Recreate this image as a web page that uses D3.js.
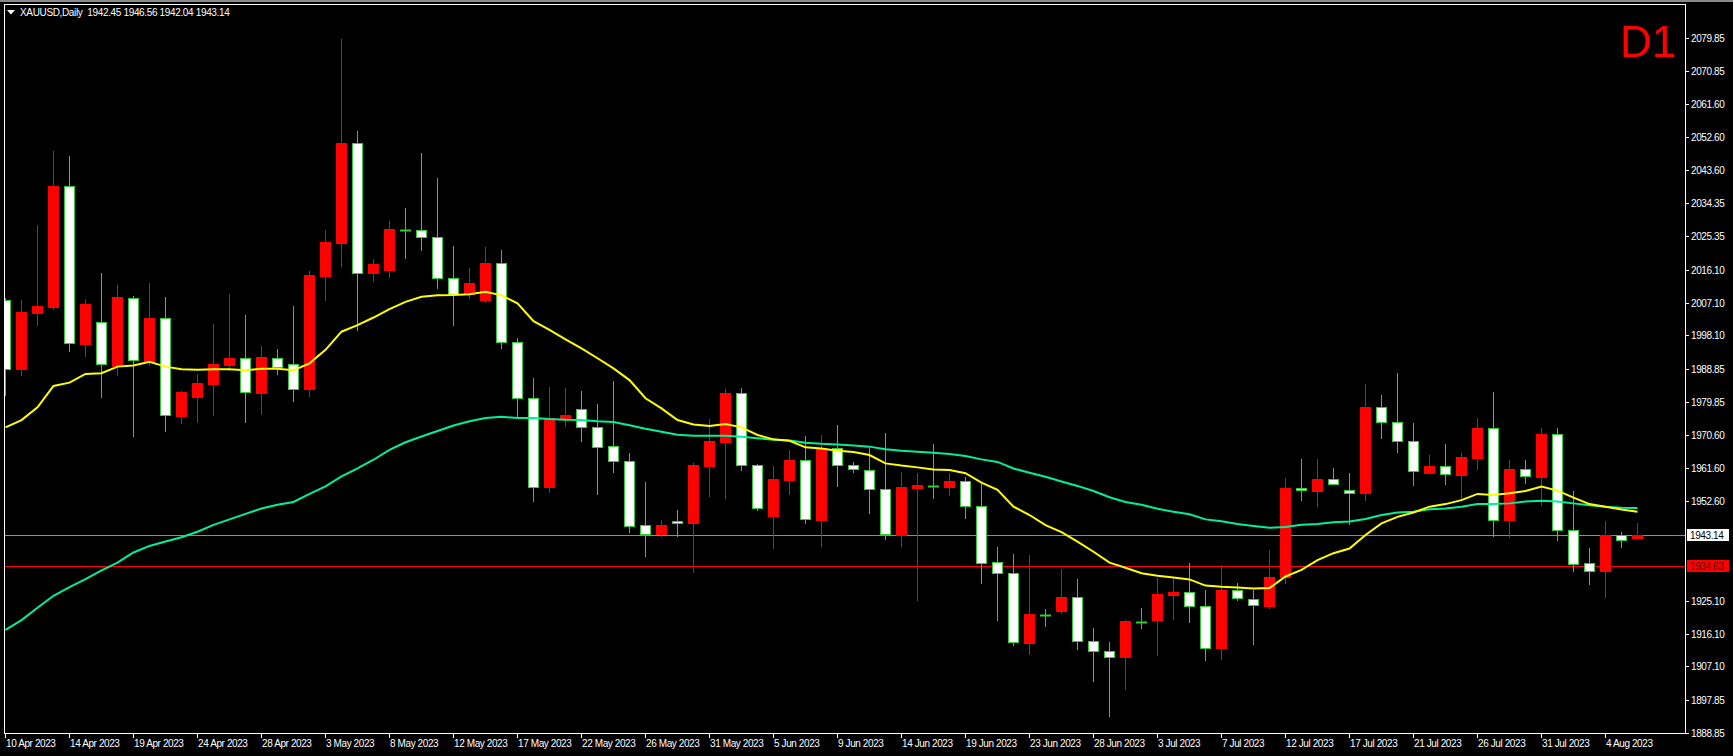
<!DOCTYPE html>
<html><head><meta charset="utf-8">
<script src="https://cdn.jsdelivr.net/npm/d3@7"></script>
<style>
html,body{margin:0;padding:0;background:#000;}
svg{display:block;}
text{font-family:"Liberation Sans",Arial,sans-serif;}
</style></head>
<body>
<svg id="chart" width="1733" height="756"></svg>
<script>
// ---------------- DATA ----------------
const symbolTitle = "XAUUSD,Daily  1942.45 1946.56 1942.04 1943.14";
const timeframeLabel = "D1";
const dates = [
"2023-04-10","2023-04-11","2023-04-12","2023-04-13","2023-04-14",
"2023-04-16","2023-04-17","2023-04-18","2023-04-19","2023-04-20","2023-04-21",
"2023-04-23","2023-04-24","2023-04-25","2023-04-26","2023-04-27","2023-04-28",
"2023-04-30","2023-05-01","2023-05-02","2023-05-03","2023-05-04","2023-05-05",
"2023-05-07","2023-05-08","2023-05-09","2023-05-10","2023-05-11","2023-05-12",
"2023-05-14","2023-05-15","2023-05-16","2023-05-17","2023-05-18","2023-05-19",
"2023-05-21","2023-05-22","2023-05-23","2023-05-24","2023-05-25","2023-05-26",
"2023-05-28","2023-05-29","2023-05-30","2023-05-31","2023-06-01","2023-06-02",
"2023-06-04","2023-06-05","2023-06-06","2023-06-07","2023-06-08","2023-06-09",
"2023-06-11","2023-06-12","2023-06-13","2023-06-14","2023-06-15","2023-06-16",
"2023-06-18","2023-06-19","2023-06-20","2023-06-21","2023-06-22","2023-06-23",
"2023-06-25","2023-06-26","2023-06-27","2023-06-28","2023-06-29","2023-06-30",
"2023-07-02","2023-07-03","2023-07-04","2023-07-05","2023-07-06","2023-07-07",
"2023-07-09","2023-07-10","2023-07-11","2023-07-12","2023-07-13","2023-07-14",
"2023-07-16","2023-07-17","2023-07-18","2023-07-19","2023-07-20","2023-07-21",
"2023-07-23","2023-07-24","2023-07-25","2023-07-26","2023-07-27","2023-07-28",
"2023-07-30","2023-07-31","2023-08-01","2023-08-02","2023-08-03","2023-08-04",
"2023-08-06","2023-08-07"];

const open = [2007.7,1988.9,2004.3,2005.9,2039.1,1995.7,2001.7,1989.8,2008.5,1991.1,2002.8,1976.0,1981.2,1984.8,1990.0,1991.8,1982.3,1992.0,1990.1,1983.3,2014.4,2023.5,2050.9,2015.2,2016.2,2027.1,2027.0,2025.0,2013.8,2009.5,2007.9,2017.9,1996.2,1981.0,1956.4,1975.0,1977.8,1972.8,1967.6,1963.5,1945.9,1943.5,1947.1,1946.4,1962.3,1968.9,1982.2,1962.4,1948.3,1958.4,1963.7,1947.4,1967.0,1962.4,1961.0,1955.8,1943.3,1956.2,1956.7,1956.5,1958.0,1951.1,1935.7,1932.7,1913.6,1921.2,1922.4,1926.1,1914.0,1911.2,1909.6,1919.3,1919.7,1926.8,1927.4,1923.6,1912.0,1928.0,1925.5,1923.8,1931.6,1956.0,1955.4,1958.5,1955.5,1954.8,1978.3,1974.2,1969.0,1960.3,1962.1,1959.7,1964.5,1972.5,1947.2,1961.3,1959.2,1970.9,1944.5,1935.5,1933.3,1943.1,1942.45];
const high = [2008.5,2007.8,2028.4,2048.8,2047.4,2008.1,2015.2,2011.9,2009.0,2012.5,2008.6,1982.9,1987.5,2001.3,2009.6,2003.7,1995.2,1994.3,2006.3,2015.8,2027.1,2079.6,2054.3,2019.1,2029.5,2033.1,2048.2,2041.4,2022.7,2016.6,2022.4,2021.6,1997.4,1986.4,1984.0,1983.7,1982.8,1979.2,1985.5,1965.7,1957.8,1947.3,1950.1,1962.9,1975.0,1983.3,1983.5,1962.7,1962.2,1966.6,1970.4,1970.7,1973.5,1963.3,1967.0,1971.3,1960.5,1960.3,1968.2,1960.3,1959.1,1957.4,1939.9,1938.0,1937.7,1922.8,1933.8,1931.1,1917.6,1913.8,1919.8,1923.1,1931.5,1931.5,1935.5,1928.1,1935.0,1930.0,1928.1,1939.1,1958.9,1964.1,1964.1,1961.6,1960.2,1984.7,1981.7,1987.8,1974.0,1965.2,1968.2,1965.8,1975.4,1982.5,1963.8,1963.8,1972.6,1972.6,1955.3,1939.6,1947.1,1944.0,1946.56];
const low = [1981.7,1987.2,2001.0,2005.4,1993.9,1992.5,1981.2,1987.2,1970.5,1990.0,1971.9,1974.1,1974.3,1976.3,1988.6,1974.4,1976.6,1987.5,1980.0,1981.5,2007.8,2017.2,1999.6,2013.0,2014.1,2019.5,2021.7,2011.2,2001.0,2008.5,2007.4,1994.7,1976.0,1952.6,1955.0,1973.2,1969.1,1954.5,1960.5,1944.0,1937.5,1942.8,1943.0,1932.9,1954.0,1953.5,1961.2,1950.2,1939.6,1954.6,1946.6,1940.2,1956.8,1960.6,1949.3,1942.2,1940.3,1925.4,1953.5,1954.3,1948.0,1930.1,1919.7,1912.9,1910.5,1918.2,1921.7,1911.9,1903.2,1893.5,1900.9,1917.7,1910.2,1920.2,1919.3,1908.8,1909.1,1925.2,1913.1,1923.0,1929.9,1952.7,1951.3,1957.2,1946.1,1952.7,1970.0,1966.1,1957.0,1960.2,1957.3,1952.8,1961.4,1943.0,1942.7,1957.6,1951.5,1941.7,1933.4,1929.7,1926.2,1939.9,1942.04];
const close = [1988.8,2004.5,2006.2,2039.2,1995.9,2006.7,1990.1,2008.6,1991.2,2002.9,1976.1,1982.5,1985.0,1990.2,1991.9,1982.4,1992.1,1989.3,1983.3,2014.7,2023.8,2051.0,2015.3,2017.7,2027.3,2027.1,2025.0,2013.8,2009.6,2012.5,2018.0,1996.2,1981.0,1956.3,1975.4,1976.2,1972.8,1967.5,1963.5,1945.8,1943.5,1946.0,1946.4,1962.5,1969.1,1982.3,1962.4,1950.5,1958.5,1963.8,1947.5,1966.9,1962.4,1961.3,1955.8,1943.4,1956.4,1957.0,1956.7,1958.0,1951.1,1935.6,1932.7,1913.7,1921.4,1921.2,1926.2,1914.0,1911.2,1909.6,1919.6,1919.3,1927.0,1927.4,1923.6,1912.0,1928.1,1925.8,1923.9,1931.7,1956.1,1955.5,1958.6,1957.3,1954.8,1978.4,1974.2,1969.0,1960.7,1962.2,1959.9,1964.7,1972.6,1947.2,1961.4,1959.3,1971.0,1944.5,1935.2,1933.3,1943.2,1941.7,1943.14];

const maFast = [1972.8,1974.8,1978.3,1984.2,1985.1,1987.5,1987.7,1989.5,1989.8,1990.8,1989.5,1988.8,1988.65,1988.8,1988.8,1988.5,1988.9,1988.9,
1988.5,1990.4,1994.1,1999.1,2000.9,2003.0,2005.3,2007.3,2008.7,2009.1,2009.2,2009.4,2010.1,2009.1,2006.9,2002.0,1999.6,1997.0,
1994.5,1991.8,1989.0,1985.8,1980.8,1978.0,1974.8,1973.6,1973.2,1973.7,1972.8,1970.7,1969.5,1969.1,1967.3,1967.0,1966.4,
1966.0,1965.2,1962.9,1962.3,1961.8,1961.2,1961.1,1960.2,1957.6,1955.6,1951.0,1948.7,1945.9,1944.0,1941.4,1938.6,1935.6,1934.2,
1932.7,1932.0,1931.5,1931.0,1929.3,1929.0,1928.8,1928.5,1928.6,1931.8,1933.6,1936.3,1938.2,1939.5,1943.2,1946.4,1948.2,1949.4,
1951.0,1951.7,1952.8,1954.5,1954.2,1954.7,1955.3,1956.5,1955.4,1953.5,1951.7,1951.0,1950.2,1949.6];
const maSlow = [1917.1,1919.8,1923.2,1926.5,1928.9,1931.1,1933.5,1935.6,1938.4,1940.2,1941.4,1942.6,1944.1,1946.0,1947.5,1949.0,1950.5,1951.5,1952.3,1954.5,1956.6,1959.3,1961.5,1963.9,1966.6,1968.7,1970.3,1971.8,1973.3,1974.5,1975.4,1975.7,1975.4,1975.4,1975.1,
1974.9,1974.8,1974.5,1974.3,1973.4,1972.4,1971.6,1970.8,1970.5,1970.5,1970.5,1970.2,1969.8,1969.4,1969.2,1968.6,1968.3,1968.1,
1967.8,1967.5,1966.8,1966.4,1966.1,1965.8,1965.5,1964.9,1964.0,1963.3,1961.5,1960.3,1959.2,1957.9,1956.7,1955.3,1953.6,1952.3,
1951.5,1950.4,1949.6,1948.9,1947.5,1947.0,1946.2,1945.7,1945.2,1945.4,1946.0,1946.2,1946.7,1946.9,1947.6,1948.7,1949.4,1949.6,
1950.3,1950.5,1951.0,1951.7,1951.7,1951.9,1952.4,1952.6,1952.4,1951.9,1951.4,1951.0,1950.7,1950.6];

const priceTicks = [2079.85,2070.85,2061.60,2052.60,2043.60,2034.35,2025.35,2016.10,2007.10,1998.10,1988.85,1979.85,1970.60,1961.60,1952.60,1925.10,1916.10,1907.10,1897.85,1888.85];
const dateTicks = ["2023-04-10","2023-04-14","2023-04-19","2023-04-24","2023-04-28","2023-05-03","2023-05-08","2023-05-12","2023-05-17","2023-05-22","2023-05-26","2023-05-31","2023-06-05","2023-06-09","2023-06-14","2023-06-19","2023-06-23","2023-06-28","2023-07-03","2023-07-07","2023-07-12","2023-07-17","2023-07-21","2023-07-26","2023-07-31","2023-08-04"];
const bidPrice = 1943.14;
const levelPrice = 1934.63;

// ---------------- LAYOUT ----------------
const W = 1733, H = 756;
const plot = {left: 4, top: 4, right: 1685, bottom: 733};
const svg = d3.select("#chart");

const x = d3.scaleBand().domain(dates).range([-3, -3 + 16 * dates.length]).padding(0);
const cx = d => Math.round(x(d) + x.bandwidth() / 2);
const y = d3.scaleLinear().domain([1888.85, 2079.85]).range([732.7, 38]);
const py = v => Math.round(y(v)) + 0.5;

const bars = dates.map((d, i) => ({date: d, o: open[i], h: high[i], l: low[i], c: close[i]}));

// window strip
svg.append("rect").attr("x", 0).attr("y", 0).attr("width", W).attr("height", 2).attr("fill", "#8a8a8a");

// clip
svg.append("defs").append("clipPath").attr("id", "clip")
  .append("rect").attr("x", plot.left + 1).attr("y", plot.top + 1)
  .attr("width", plot.right - plot.left - 1).attr("height", plot.bottom - plot.top - 1);
const g = svg.append("g").attr("clip-path", "url(#clip)");

const RED = "#ff0000", GREEN = "#32cd32", WHITE = "#ffffff";

// horizontal lines
g.append("line").attr("x1", plot.left).attr("x2", plot.right).attr("y1", py(bidPrice)).attr("y2", py(bidPrice))
  .attr("stroke", "#8c8c8c").attr("stroke-width", 1);
g.append("line").attr("x1", plot.left).attr("x2", plot.right).attr("y1", py(levelPrice)).attr("y2", py(levelPrice))
  .attr("stroke", RED).attr("stroke-width", 1);

// wicks
g.append("g").selectAll("line").data(bars).join("line")
  .attr("x1", d => cx(d.date) + 0.5).attr("x2", d => cx(d.date) + 0.5)
  .attr("y1", d => Math.round(y(d.h))).attr("y2", d => Math.round(y(d.l)) + 1)
  .attr("stroke", d => d.c > d.o ? RED : GREEN).attr("stroke-width", 1);

// bodies
g.append("g").selectAll("rect").data(bars.filter(d => d.c !== d.o)).join("rect")
  .attr("x", d => cx(d.date) - 4.5)
  .attr("y", d => Math.round(y(Math.max(d.o, d.c))) + 0.5)
  .attr("width", 10)
  .attr("height", d => Math.max(1, Math.round(y(Math.min(d.o, d.c))) - Math.round(y(Math.max(d.o, d.c)))))
  .attr("fill", d => d.c > d.o ? RED : WHITE)
  .attr("stroke", d => d.c > d.o ? RED : GREEN).attr("stroke-width", 1);

// dojis
g.append("g").selectAll("line").data(bars.filter(d => d.c === d.o)).join("line")
  .attr("x1", d => cx(d.date) - 5).attr("x2", d => cx(d.date) + 6)
  .attr("y1", d => Math.round(y(d.o)) + 0.5).attr("y2", d => Math.round(y(d.o)) + 0.5)
  .attr("stroke", GREEN).attr("stroke-width", 2);

// moving averages
const lineGen = arr => d3.line().x((d, i) => cx(dates[i]) + 0.5).y(d => y(d))(arr);
g.append("path").attr("d", lineGen(maSlow)).attr("fill", "none").attr("stroke", "#00f09a").attr("stroke-width", 2);
g.append("path").attr("d", lineGen(maFast)).attr("fill", "none").attr("stroke", "#ffff00").attr("stroke-width", 2);

// frame
svg.append("rect").attr("x", plot.left + 0.5).attr("y", plot.top + 0.5)
  .attr("width", plot.right - plot.left).attr("height", plot.bottom - plot.top)
  .attr("fill", "none").attr("stroke", WHITE).attr("stroke-width", 1);

// price axis
const axFont = 10;
const ya = svg.append("g");
ya.selectAll("line").data(priceTicks).join("line")
  .attr("x1", plot.right + 1).attr("x2", plot.right + 4)
  .attr("y1", d => py(d)).attr("y2", d => py(d)).attr("stroke", WHITE);
ya.selectAll("text").data(priceTicks).join("text")
  .attr("x", plot.right + 6).attr("y", d => py(d)).attr("dy", "0.35em")
  .attr("fill", WHITE).attr("font-size", axFont).attr("letter-spacing", "-0.4px")
  .text(d => d.toFixed(2));

// price tags
function tag(v, bg, fg) {
  const yy = Math.round(y(v));
  svg.append("rect").attr("x", plot.right + 2).attr("y", yy - 6).attr("width", 42).attr("height", 12).attr("fill", bg);
  svg.append("text").attr("x", plot.right + 5).attr("y", yy).attr("dy", "0.35em")
    .attr("fill", fg).attr("font-size", axFont).attr("letter-spacing", "-0.4px").text(v.toFixed(2));
}
tag(bidPrice, WHITE, "#000000");
tag(levelPrice, RED, "#5a0000");

// time axis
const fmt = d3.timeFormat("%-d %b %Y"), parse = d3.timeParse("%Y-%m-%d");
const xa = svg.append("g");
xa.selectAll("line").data(dateTicks).join("line")
  .attr("x1", d => cx(d) + 0.5).attr("x2", d => cx(d) + 0.5)
  .attr("y1", plot.bottom + 1).attr("y2", plot.bottom + 5).attr("stroke", WHITE);
xa.selectAll("text").data(dateTicks).join("text")
  .attr("x", d => cx(d) + 1).attr("y", 747)
  .attr("fill", WHITE).attr("font-size", axFont).attr("letter-spacing", "-0.4px")
  .text(d => fmt(parse(d)));

// header
svg.append("path").attr("d", "M7,10 L15,10 L11,14.5 Z").attr("fill", WHITE);
svg.append("text").attr("x", 20).attr("y", 16).attr("fill", WHITE).attr("font-size", 10)
  .attr("letter-spacing", "-0.35px").style("white-space", "pre").text(symbolTitle);

// timeframe label
svg.append("text").attr("x", 1676).attr("y", 57).attr("text-anchor", "end")
  .attr("fill", RED).attr("font-size", 44).text(timeframeLabel);
</script>
</body></html>
